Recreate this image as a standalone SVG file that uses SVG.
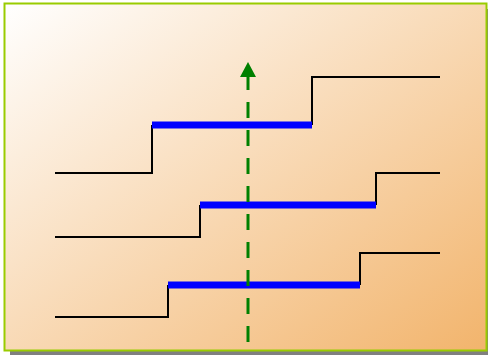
<svg xmlns="http://www.w3.org/2000/svg" width="488" height="355" viewBox="0 0 488 355">
<defs>
<linearGradient id="bg" x1="0" y1="0" x2="1" y2="1">
<stop offset="0" stop-color="#ffffff"/>
<stop offset="1" stop-color="#f2b46c"/>
</linearGradient>
<style>
.step{fill:none;stroke:#000;stroke-width:2}
.bar{fill:none;stroke:#0000ff;stroke-width:7}
.axis{fill:none;stroke:#008000;stroke-width:3;stroke-dasharray:16 12}
</style>
</defs>
<rect x="10" y="9" width="482" height="347" fill="#808080"/>
<rect x="4.5" y="3.5" width="482" height="347" fill="url(#bg)" stroke="#99cc00" stroke-width="2"/>
<g id="node-top">
<polyline class="step" points="55,173 152,173 152,125"/>
<polyline class="step" points="312,125 312,77 440,77"/>
<line class="bar" x1="152" y1="125" x2="312" y2="125"/>
</g>
<g id="node-middle">
<polyline class="step" points="55,237 200,237 200,205"/>
<polyline class="step" points="376,205 376,173 440,173"/>
<line class="bar" x1="200" y1="205" x2="376" y2="205"/>
</g>
<g id="node-bottom">
<polyline class="step" points="55,317 168,317 168,285"/>
<polyline class="step" points="360,285 360,253 440,253"/>
<line class="bar" x1="168" y1="285" x2="360" y2="285"/>
</g>
<g id="connectors">
<line class="axis" x1="248" y1="342" x2="248" y2="76"/>
<polygon points="248,62 256,77 240,77" fill="#008000"/>
</g>
</svg>
